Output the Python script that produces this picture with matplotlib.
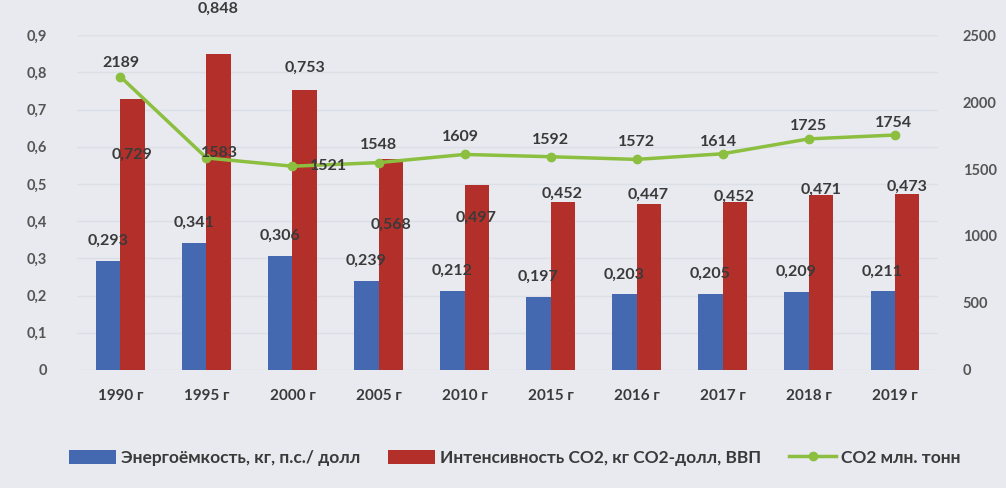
import numpy as np
import matplotlib.pyplot as plt
from matplotlib.ticker import FuncFormatter

years = ['1990 г', '1995 г', '2000 г', '2005 г', '2010 г', '2015 г', '2016 г', '2017 г', '2018 г', '2019 г']
energy = [0.293, 0.341, 0.306, 0.239, 0.212, 0.197, 0.203, 0.205, 0.209, 0.211]
co2_int = [0.729, 0.848, 0.753, 0.568, 0.497, 0.452, 0.447, 0.452, 0.471, 0.473]
co2_mt = [2189, 1583, 1521, 1548, 1609, 1592, 1572, 1614, 1725, 1754]

# label offsets (pixels) - labels in the source were moved by hand
red_dy = [-56, 46, 22, -66, -33, 8, 9, 5, 5, 7]
line_off = [(0, 14), (13, 5), (36, 0), (0, 18), (-4, 17), (0, 17), (0, 17), (-4, 12), (0, 13), (-1, 12)]

plt.rcParams['font.family'] = ['Lato', 'DejaVu Sans']

bg = '#e8eaf0'
c_blue = '#4469b0'
c_red = '#b3302a'
c_green = '#8cbf3f'
c_txt = '#3a3a3a'

fig = plt.figure(figsize=(10.06, 4.88), dpi=100, facecolor=bg)
ax = fig.add_axes([0.077, 0.242, 0.855, 0.686], facecolor=bg)
ax2 = ax.twinx()

x = np.arange(len(years))
w = 0.28
ax.bar(x - w / 2, energy, w, color=c_blue, label='Энергоёмкость, кг, п.с./ долл', zorder=2)
ax.bar(x + w / 2, co2_int, w, color=c_red, label='Интенсивность CO2, кг CO2-долл, ВВП', zorder=2)
ax2.plot(x, co2_mt, color=c_green, lw=2.5, marker='o', ms=6, label='CO2 млн. тонн', zorder=3)

ax.set_ylim(0, 0.9)
ax.set_yticks(np.arange(0, 0.91, 0.1))
ax.yaxis.set_major_formatter(FuncFormatter(lambda v, p: '0' if v == 0 else ('%.1f' % v).replace('.', ',')))
ax2.set_ylim(0, 2500)
ax2.set_yticks(np.arange(0, 2501, 500))
ax.set_xlim(-0.5, len(years) - 0.5)
ax.set_xticks(x)
ax.set_xticklabels(years)
ax.grid(axis='y', color='#dcdfe6', lw=1, zorder=0)
ax.set_axisbelow(True)

for a in (ax, ax2):
    for s in a.spines.values():
        s.set_visible(False)
    a.tick_params(length=0, labelsize=10.5, labelcolor='#555555')
ax.tick_params(axis='y', pad=22)
ax.tick_params(axis='x', pad=14, labelsize=11, labelcolor=c_txt)
ax2.tick_params(axis='y', pad=18)
for t in ax.get_xticklabels() + ax.get_yticklabels() + ax2.get_yticklabels():
    t.set_fontweight('bold')

for i in range(len(years)):
    ax.annotate(('%.3f' % energy[i]).replace('.', ','), (x[i] - w / 2, energy[i]),
                xytext=(0, 20), textcoords='offset pixels', ha='center', va='center',
                fontsize=11.5, fontweight='bold', color=c_txt)
    ax.annotate(('%.3f' % co2_int[i]).replace('.', ','), (x[i] + w / 2, co2_int[i]),
                xytext=(0, red_dy[i]), textcoords='offset pixels', ha='center', va='center',
                fontsize=11.5, fontweight='bold', color=c_txt, annotation_clip=False)
    ax2.annotate(str(co2_mt[i]), (x[i], co2_mt[i]),
                 xytext=line_off[i], textcoords='offset pixels', ha='center', va='center',
                 fontsize=11.5, fontweight='bold', color=c_txt, annotation_clip=False, zorder=5)

h1, l1 = ax.get_legend_handles_labels()
h2, l2 = ax2.get_legend_handles_labels()
fig.legend(h1 + h2, l1 + l2, loc='center', bbox_to_anchor=(0.512, 0.062), ncol=3, frameon=False,
           handlelength=2.7, handleheight=0.9, handletextpad=0.3, columnspacing=1.6, labelcolor=c_txt,
           prop={'weight': 'bold', 'size': 12.5})

fig.savefig('out.png', dpi=100, facecolor=bg)
